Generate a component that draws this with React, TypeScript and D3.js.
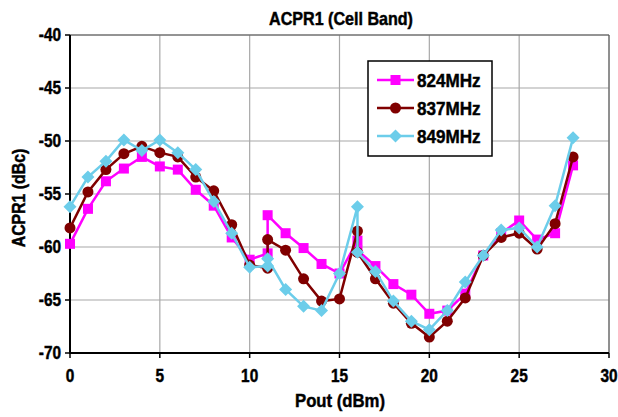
import React from "react";
import * as d3 from "d3";

const title = "ACPR1 (Cell Band)";
const xLabel = "Pout (dBm)";
const yLabel = "ACPR1 (dBc)";
const xTicks = [0, 5, 10, 15, 20, 25, 30];
const yTicks = [-40, -45, -50, -55, -60, -65, -70];

const xPout = [0, 1, 2, 3, 4, 5, 6, 7, 8, 9, 10, 11, 11, 12, 13, 14, 15, 16, 16, 17, 18, 19, 20, 21, 22, 23, 24, 25, 26, 27, 28];
const acpr824 = [-59.7, -56.4, -53.8, -52.6, -51.5, -52.4, -52.7, -54.6, -56.1, -59.1, -61.2, -60.6, -57.0, -58.7, -60.1, -61.6, -62.5, -59.4, -60.3, -61.8, -63.5, -64.5, -66.3, -66.0, -64.4, -60.8, -58.7, -57.5, -59.3, -58.7, -52.3];
const acpr837 = [-58.2, -54.8, -52.7, -51.2, -50.5, -51.1, -51.5, -53.4, -54.7, -57.9, -61.7, -62.0, -59.3, -60.3, -63.0, -65.1, -64.9, -58.5, -60.5, -63.0, -65.3, -67.2, -68.5, -67.0, -64.8, -60.8, -59.1, -58.7, -60.2, -57.8, -51.5];
const acpr849 = [-56.2, -53.4, -51.9, -49.9, -50.9, -49.9, -51.1, -52.7, -55.7, -58.7, -61.9, -61.8, -61.1, -64.0, -65.6, -66.0, -62.5, -56.2, -60.5, -62.3, -65.1, -67.0, -67.8, -66.0, -63.3, -60.8, -58.4, -58.2, -60.0, -56.1, -49.7];

const seriesNames = ["824MHz", "837MHz", "849MHz"];
const seriesColors = ["#FF00FF", "#800000", "#6CCDEA"];
const seriesMarkers = ["square", "circle", "diamond"];
const seriesValues = [acpr824, acpr837, acpr849];

const FONT = "'Liberation Sans', Arial, sans-serif";

function Marker({ kind, x, y, color }: { kind: string; x: number; y: number; color: string }) {
  if (kind === "square") return <rect x={x - 5} y={y - 5} width={10} height={10} fill={color} />;
  if (kind === "circle") return <circle cx={x} cy={y} r={5.5} fill={color} />;
  return <path d={`M${x},${y - 6.5}L${x + 6.5},${y}L${x},${y + 6.5}L${x - 6.5},${y}Z`} fill={color} />;
}

function Txt({ x, y, size, anchor, rotate, sx, children }: { x: number; y: number; size: number; anchor?: string; rotate?: number; sx?: number; children: React.ReactNode }) {
  const s = sx ?? 0.88;
  return (
    <text
      transform={`translate(${x},${y})${rotate ? ` rotate(${rotate})` : ""} scale(${s},1)`}
      textAnchor={anchor || "start"}
      fontFamily={FONT}
      fontWeight="bold"
      fontSize={size}
      fill="#000"
      stroke="#000"
      strokeWidth={0.45}
    >
      {children}
    </text>
  );
}

export default function App() {
  const W = 618, H = 417;
  const L = 70, R = 609, T = 35, B = 353;
  const x = d3.scaleLinear().domain([0, 30]).range([L, R]);
  const y = d3.scaleLinear().domain([-70, -40]).range([B, T]);
  const line = d3.line<[number, number]>().x((d) => x(d[0])).y((d) => y(d[1]));

  return (
    <svg width={W} height={H} style={{ position: "absolute", left: 0, top: 0, background: "#fff" }}>
      <rect width={W} height={H} fill="#fff" />
      {xTicks.map((t) => (
        <line key={"gx" + t} x1={x(t)} x2={x(t)} y1={T} y2={B} stroke="#a8a8a8" strokeWidth={1.2} />
      ))}
      {yTicks.map((t) => (
        <line key={"gy" + t} x1={L} x2={R} y1={y(t)} y2={y(t)} stroke="#a8a8a8" strokeWidth={1.2} />
      ))}
      <line x1={L} x2={R} y1={T} y2={T} stroke="#555" strokeWidth={1} />
      <line x1={R} x2={R} y1={T} y2={B} stroke="#555" strokeWidth={1} />
      <line x1={L} x2={L} y1={T} y2={B + 1} stroke="#000" strokeWidth={2} />
      <line x1={L - 1} x2={R} y1={B} y2={B} stroke="#000" strokeWidth={2} />
      {yTicks.map((t) => (
        <g key={"ty" + t}>
          <line x1={L - 5} x2={L} y1={y(t)} y2={y(t)} stroke="#000" strokeWidth={1.5} />
          <Txt x={L - 9} y={y(t) + 6.3} size={17.5} anchor="end">
            {t}
          </Txt>
        </g>
      ))}
      {xTicks.map((t) => (
        <g key={"tx" + t}>
          <line x1={x(t)} x2={x(t)} y1={B} y2={B + 5} stroke="#000" strokeWidth={1.5} />
          <Txt x={x(t)} y={B + 29} size={17.5} anchor="middle">
            {t}
          </Txt>
        </g>
      ))}
      {seriesValues.map((vals, si) => {
        const pts: [number, number][] = vals.map((v, i) => [xPout[i], v]);
        return (
          <g key={"s" + si}>
            <path d={line(pts) || ""} fill="none" stroke={seriesColors[si]} strokeWidth={2.5} />
            {pts.map((p, i) => (
              <Marker key={i} kind={seriesMarkers[si]} x={x(p[0])} y={y(p[1])} color={seriesColors[si]} />
            ))}
          </g>
        );
      })}
      <Txt x={341} y={25} size={17.7} anchor="middle" sx={0.91}>
        {title}
      </Txt>
      <Txt x={340} y={407} size={19} anchor="middle">
        {xLabel}
      </Txt>
      <Txt x={25} y={(T + B) / 2 + 4} size={18} anchor="middle" rotate={-90}>
        {yLabel}
      </Txt>
      <g>
        <rect x={368} y={61} width={124} height={95} fill="#fff" stroke="#000" strokeWidth={1.5} />
        {seriesNames.map((n, i) => {
          const ly = 80 + i * 28;
          return (
            <g key={"lg" + i}>
              <line x1={377} x2={414} y1={ly} y2={ly} stroke={seriesColors[i]} strokeWidth={2.5} />
              <Marker kind={seriesMarkers[i]} x={395.5} y={ly} color={seriesColors[i]} />
              <Txt x={417} y={ly + 6.8} size={19} sx={0.9}>
                {n}
              </Txt>
            </g>
          );
        })}
      </g>
    </svg>
  );
}
